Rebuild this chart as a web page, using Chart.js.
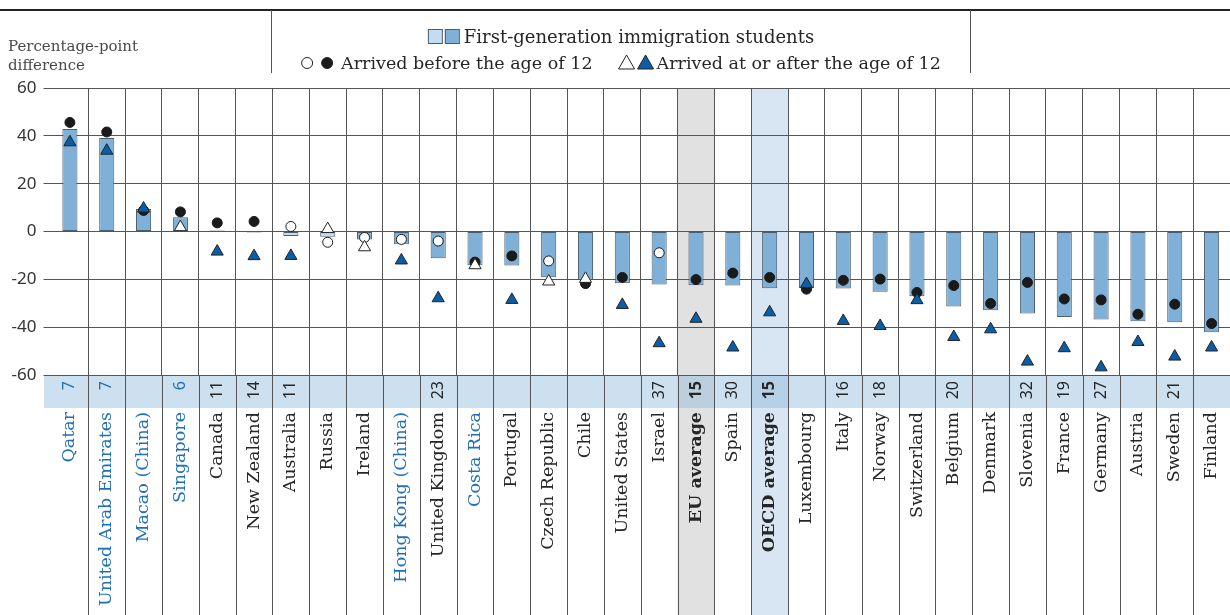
<!DOCTYPE html>
<html>
<head>
<meta charset="utf-8">
<script src="https://cdn.jsdelivr.net/npm/chart.js"></script>
<style>
    html, body { margin: 0; padding: 0; background: #ffffff; }
    .chart-wrap { position: relative; width: 1230px; height: 615px; }
</style>
</head>
<body>
<div class="chart-wrap"><canvas id="immigrantChart"></canvas></div>
<script>
// Data
const countries = ['Qatar', 'United Arab Emirates', 'Macao (China)', 'Singapore', 'Canada', 'New Zealand',
    'Australia', 'Russia', 'Ireland', 'Hong Kong (China)', 'United Kingdom', 'Costa Rica', 'Portugal',
    'Czech Republic', 'Chile', 'United States', 'Israel', 'EU average', 'Spain', 'OECD average',
    'Luxembourg', 'Italy', 'Norway', 'Switzerland', 'Belgium', 'Denmark', 'Slovenia', 'France',
    'Germany', 'Austria', 'Sweden', 'Finland'];
const partnerCountries = ['Qatar', 'United Arab Emirates', 'Macao (China)', 'Singapore', 'Hong Kong (China)', 'Costa Rica'];
const averageRows = ['EU average', 'OECD average'];

// First-generation immigrant students (bars)
const firstGenDiff = [42.9, 39.1, 9.4, 6.0, 0.4, -0.4, -1.9, -2.2, -3.3, -5.3, -11.2, -14.1, -14.2,
    -19.1, -20.2, -21.6, -22.2, -22.5, -22.6, -23.7, -23.7, -23.8, -25.2, -27.1, -31.4, -32.9, -34.3,
    -35.8, -36.8, -37.5, -37.9, -42.1];
const firstGenSignificant = [1, 1, 1, 1, 0, 1, 0, 0, 1, 1, 1, 1, 1, 1, 1, 1, 1, 1, 1, 1,
    1, 1, 1, 1, 1, 1, 1, 1, 1, 1, 1, 1];

// Arrived before the age of 12 (circles)
const before12Diff = [45.6, 41.6, 8.8, 8.2, 3.6, 4.2, 2.1, -4.5, -2.5, -3.3, -4.0, -12.8, -10.2,
    -12.3, -21.8, -19.2, -8.9, -20.1, -17.4, -19.2, -24.1, -20.4, -19.9, -25.5, -22.6, -30.1, -21.3,
    -28.2, -28.6, -34.6, -30.4, -38.5];
const before12Significant = [1, 1, 1, 1, 1, 1, 0, 0, 0, 0, 0, 1, 1, 0, 1, 1, 0, 1, 1, 1,
    1, 1, 1, 1, 1, 1, 1, 1, 1, 1, 1, 1];

// Arrived at or after the age of 12 (triangles)
const after12Diff = [37.3, 33.8, 9.6, 1.8, -8.4, -10.3, -10.2, 1.0, -6.6, -12.1, -27.9, -14.1, -28.6,
    -20.9, -19.8, -30.7, -46.7, -36.5, -48.5, -33.8, -22.0, -37.4, -39.5, -28.7, -44.1, -40.9, -54.4,
    -48.8, -56.8, -46.2, -52.3, -48.5];
const after12Significant = [1, 1, 1, 0, 1, 1, 1, 0, 0, 1, 1, 0, 1, 0, 0, 1, 1, 1, 1, 1,
    1, 1, 1, 1, 1, 1, 1, 1, 1, 1, 1, 1];

// Numbers shown in the blue band under the plot
const bandValues = [7, 7, null, 6, 11, 14, 11, null, null, null, 23, null, null, null, null, null,
    37, 15, 30, 15, null, 16, 18, null, 20, null, 32, 19, 27, null, 21, null];

const yTicks = [60, 40, 20, 0, -20, -40, -60];

const SERIF = '"DejaVu Serif", "Liberation Serif", serif';
const SANS = '"Noto Sans", "DejaVu Sans", sans-serif';
const PARTNER_BLUE = '#1f6fb6';
const TEXT_DARK = '#262626';
const GRID = '#555555';

document.addEventListener('DOMContentLoaded', function() {
    initializeImmigrantChart();
});

// Backgrounds, band, legend and extra rules
const decorPlugin = {
    id: 'oecdDecor',
    afterLayout(chart) {
        // let the category axis run to the right edge of the canvas
        const x = chart.scales.x;
        const right = chart.width;
        chart.chartArea.right = right;
        chart.chartArea.width = right - chart.chartArea.left;
        x.right = right;
        x.width = right - x.left;
        x.configure();
    },
    beforeDraw(chart) {
        const { ctx, chartArea, scales: { x } } = chart;
        const step = x.getPixelForValue(1) - x.getPixelForValue(0);
        ctx.save();
        // highlighted average columns
        averageRows.forEach(name => {
            const i = countries.indexOf(name);
            const cx = x.getPixelForValue(i);
            ctx.fillStyle = name === 'EU average' ? '#e1e1e1' : '#d7e6f2';
            ctx.fillRect(cx - step / 2, chartArea.top, step, chart.height - chartArea.top);
        });
        // band
        ctx.fillStyle = '#cde0f0';
        ctx.fillRect(44, chartArea.bottom, chart.width - 44, 33);
        averageRows.forEach(name => {
            const i = countries.indexOf(name);
            const cx = x.getPixelForValue(i);
            ctx.fillStyle = name === 'EU average' ? '#bccfdf' : '#b6d0e7';
            ctx.fillRect(cx - step / 2, chartArea.bottom, step, 33);
        });
        ctx.restore();
    },
    afterDraw(chart) {
        const { ctx, chartArea, scales: { x } } = chart;
        const step = x.getPixelForValue(1) - x.getPixelForValue(0);
        ctx.save();

        // column separators below the plot
        ctx.strokeStyle = GRID;
        ctx.lineWidth = 1;
        for (let i = 1; i < countries.length; i++) {
            const lx = Math.round(x.getPixelForValue(i) - step / 2) + 0.5;
            ctx.beginPath();
            ctx.moveTo(lx, chartArea.bottom);
            ctx.lineTo(lx, chart.height);
            ctx.stroke();
        }

        // band numbers
        bandValues.forEach((v, i) => {
            if (v === null) return;
            const name = countries[i];
            const isAvg = averageRows.includes(name);
            ctx.save();
            ctx.translate(x.getPixelForValue(i), chartArea.bottom + 6);
            ctx.rotate(-Math.PI / 2);
            ctx.font = (isAvg ? 'bold ' : '') + '16px ' + SANS;
            ctx.fillStyle = partnerCountries.includes(name) ? PARTNER_BLUE : TEXT_DARK;
            ctx.textAlign = 'right';
            ctx.textBaseline = 'middle';
            ctx.fillText(String(v), 0, 0);
            ctx.restore();
        });

        // top rule and legend box separators
        ctx.strokeStyle = '#222';
        ctx.lineWidth = 2;
        ctx.beginPath();
        ctx.moveTo(0, 10);
        ctx.lineTo(chart.width, 10);
        ctx.stroke();
        ctx.strokeStyle = GRID;
        ctx.lineWidth = 1;
        [271.5, 970.5].forEach(lx => {
            ctx.beginPath();
            ctx.moveTo(lx, 10);
            ctx.lineTo(lx, 73);
            ctx.stroke();
        });

        // y axis title
        ctx.font = '15px ' + SERIF;
        ctx.fillStyle = '#4a4a4a';
        ctx.textAlign = 'left';
        ctx.textBaseline = 'alphabetic';
        ctx.fillText('Percentage-point', 8, 51);
        ctx.fillText('difference', 8, 70);

        drawLegend(ctx);
        ctx.restore();
    }
};

function drawLegend(ctx) {
    const center = 621;
    ctx.textBaseline = 'alphabetic';
    ctx.textAlign = 'left';

    // row 1: bars
    ctx.font = '18px ' + SERIF;
    const t1 = 'First-generation immigration students';
    const w1 = ctx.measureText(t1).width;
    const row1Start = center - (w1 + 36) / 2;
    ctx.strokeStyle = '#4d5d6c';
    ctx.lineWidth = 1;
    ctx.fillStyle = '#c4dcef';
    ctx.fillRect(row1Start, 29, 14, 14);
    ctx.strokeRect(row1Start + 0.5, 29.5, 14, 14);
    ctx.fillStyle = '#7eb0d8';
    ctx.fillRect(row1Start + 17, 29, 14, 14);
    ctx.strokeRect(row1Start + 17.5, 29.5, 14, 14);
    ctx.fillStyle = TEXT_DARK;
    ctx.fillText(t1, row1Start + 36, 43);

    // row 2: circles and triangles
    ctx.font = '17.5px ' + SERIF;
    const t2 = 'Arrived before the age of 12';
    const t3 = 'Arrived at or after the age of 12';
    const w2 = ctx.measureText(t2).width;
    const w3 = ctx.measureText(t3).width;
    const total = 40 + w2 + 28 + 36 + w3;
    let px = center - total / 2;
    const cy = 63;
    ctx.strokeStyle = '#222';
    ctx.fillStyle = '#fff';
    ctx.beginPath(); ctx.arc(px + 6, cy, 5.5, 0, Math.PI * 2); ctx.fill(); ctx.stroke();
    ctx.fillStyle = '#1a1a1a';
    ctx.beginPath(); ctx.arc(px + 26, cy, 5.5, 0, Math.PI * 2); ctx.fill(); ctx.stroke();
    px += 40;
    ctx.fillStyle = TEXT_DARK;
    ctx.fillText(t2, px, 69);
    px += w2 + 28;
    drawTriangle(ctx, px + 6, cy, '#fff');
    drawTriangle(ctx, px + 25, cy, '#0a5ea8');
    px += 36;
    ctx.fillStyle = TEXT_DARK;
    ctx.fillText(t3, px, 69);
}

function drawTriangle(ctx, cx, cy, fill) {
    ctx.beginPath();
    ctx.moveTo(cx, cy - 8);
    ctx.lineTo(cx + 8, cy + 6);
    ctx.lineTo(cx - 8, cy + 6);
    ctx.closePath();
    ctx.fillStyle = fill;
    ctx.fill();
    ctx.strokeStyle = '#222';
    ctx.stroke();
}

function initializeImmigrantChart() {
    const ctx = document.getElementById('immigrantChart').getContext('2d');

    new Chart(ctx, {
        type: 'bar',
        data: {
            labels: countries,
            datasets: [
                {
                    label: 'First-generation immigration students',
                    data: firstGenDiff,
                    backgroundColor: firstGenSignificant.map(s => s ? '#7eb0d8' : '#c4dcef'),
                    borderColor: '#4d5d6c',
                    borderWidth: 1,
                    borderSkipped: false,
                    barPercentage: 0.41,
                    categoryPercentage: 1,
                    order: 3
                },
                {
                    type: 'line',
                    label: 'Arrived before the age of 12',
                    data: before12Diff,
                    showLine: false,
                    pointStyle: 'circle',
                    pointRadius: 5,
                    pointBorderWidth: 1,
                    pointBackgroundColor: before12Significant.map(s => s ? '#1a1a1a' : '#ffffff'),
                    pointBorderColor: '#1a1a1a',
                    order: 2
                },
                {
                    type: 'line',
                    label: 'Arrived at or after the age of 12',
                    data: after12Diff,
                    showLine: false,
                    pointStyle: 'triangle',
                    pointRadius: 7,
                    pointBorderWidth: 1,
                    pointBackgroundColor: after12Significant.map(s => s ? '#0a5ea8' : '#ffffff'),
                    pointBorderColor: '#222222',
                    order: 1
                }
            ]
        },
        options: {
            responsive: true,
            maintainAspectRatio: false,
            animation: false,
            layout: { padding: { top: 88, left: 0, right: 0, bottom: 0 } },
            plugins: {
                legend: { display: false },
                tooltip: { enabled: false }
            },
            scales: {
                x: {
                    offset: true,
                    border: { display: false },
                    grid: {
                        offset: true,
                        drawTicks: false,
                        color: c => c.index === 0 ? 'rgba(0,0,0,0)' : GRID
                    },
                    ticks: {
                        autoSkip: false,
                        minRotation: 90,
                        maxRotation: 90,
                        padding: 37,
                        color: c => partnerCountries.includes(countries[c.index]) ? PARTNER_BLUE : TEXT_DARK,
                        font: c => ({
                            family: SERIF,
                            size: 17.5,
                            weight: averageRows.includes(countries[c.index]) ? 'bold' : 'normal'
                        })
                    },
                    afterFit: scale => {
                        scale.height = 240;
                        scale.paddingLeft = 0;
                        scale.paddingRight = 0;
                    }
                },
                y: {
                    min: Math.min(...yTicks),
                    max: Math.max(...yTicks),
                    border: { display: false },
                    grid: {
                        color: GRID,
                        drawTicks: true,
                        tickLength: 8
                    },
                    ticks: {
                        stepSize: 20,
                        padding: 7,
                        color: '#333',
                        font: { family: SANS, size: 17 }
                    },
                    afterFit: scale => {
                        scale.width = 51.5;
                        scale.paddingTop = 0;
                        scale.paddingBottom = 0;
                    }
                }
            }
        },
        plugins: [decorPlugin]
    });
}
</script>
</body>
</html>
